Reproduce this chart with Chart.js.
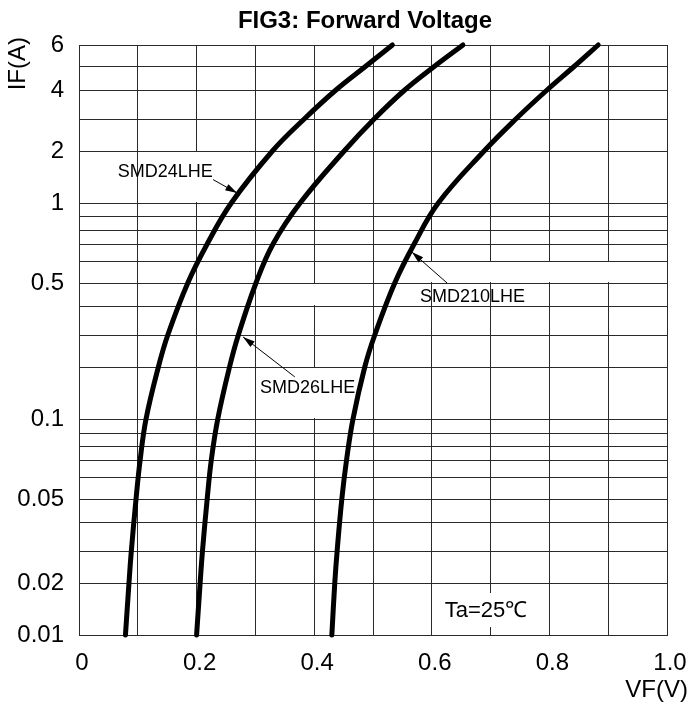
<!DOCTYPE html>
<html>
<head>
<meta charset="utf-8">
<script src="https://cdn.jsdelivr.net/npm/chart.js@4.4.0/dist/chart.umd.min.js"></script>
<style>
  html, body { margin: 0; padding: 0; background: #fff; }
  #wrap { width: 691px; height: 704px; }
</style>
</head>
<body>
<div id="wrap"><canvas id="fwdChart"></canvas></div>
<script>
// forward current (A) where each curve was read
const currentA = [0.01, 0.02, 0.03, 0.05, 0.07, 0.1, 0.2, 0.3, 0.5, 0.7, 1, 2, 3, 4, 5, 6];
// forward voltage (V) of each part at those currents
const vfSMD24LHE = [0.079, 0.085, 0.089, 0.097, 0.104, 0.114, 0.135, 0.151, 0.185, 0.218, 0.259, 0.329, 0.383, 0.437, 0.486, 0.533];
const vfSMD26LHE = [0.200, 0.206, 0.210, 0.218, 0.225, 0.236, 0.256, 0.271, 0.301, 0.330, 0.376, 0.451, 0.502, 0.554, 0.603, 0.653];
const vfSMD210LHE = [0.430, 0.435, 0.439, 0.447, 0.455, 0.466, 0.486, 0.503, 0.537, 0.570, 0.611, 0.689, 0.743, 0.796, 0.841, 0.883];

// y grid lines and the ones carrying a label
const yGrid = [0.01, 0.02, 0.03, 0.04, 0.05, 0.06, 0.07, 0.08, 0.09,
               0.1, 0.2, 0.3, 0.4, 0.5, 0.6, 0.7, 0.8, 0.9,
               1, 2, 3, 4, 5, 6];
const yLabels = [0.01, 0.02, 0.05, 0.1, 0.5, 1, 2, 4, 6];
const xLabels = ["0", "0.2", "0.4", "0.6", "0.8", "1.0"];

const yMin = 0.01, yMax = 6;

// the printed log paper is not a true log scale: spacing of 1..10 inside one decade
const decadeSteps = [0, 52, 84, 113, 136, 158, 175, 189, 202, 216];
const decadeLen = 216;

function warpPos(v) {
  const d = Math.floor(Math.log10(v / yMin) + 1e-9);
  const m = v / (yMin * Math.pow(10, d));
  const i = Math.max(1, Math.min(Math.floor(m + 1e-9), 9));
  return d * decadeLen + decadeSteps[i - 1] + (decadeSteps[i] - decadeSteps[i - 1]) * (m - i);
}
const warpSpan = warpPos(yMax);

class PaperLogScale extends Chart.LinearScale {
  determineDataLimits() {
    this.min = yMin;
    this.max = yMax;
  }
  buildTicks() {
    return yGrid.map(v => ({ value: v }));
  }
  getPixelForValue(value) {
    if (value === null || value === undefined || isNaN(value)) return NaN;
    return this.getPixelForDecimal(warpPos(Math.max(value, yMin)) / warpSpan);
  }
  getValueForPixel(pixel) {
    const p = this.getDecimalForPixel(pixel) * warpSpan;
    const d = Math.floor(p / decadeLen);
    const r = p - d * decadeLen;
    let i = 1;
    while (i < 9 && decadeSteps[i] < r) i++;
    const m = i + (r - decadeSteps[i - 1]) / (decadeSteps[i] - decadeSteps[i - 1]);
    return yMin * Math.pow(10, d) * m;
  }
}
PaperLogScale.id = "paperlog";
PaperLogScale.defaults = Chart.LinearScale.defaults;
Chart.register(PaperLogScale);

const toPoints = vf => vf.map((v, i) => ({ x: v, y: currentA[i] }));

// white patches where the original sheet left the grid out, plus labels and arrows
const sheetPlugin = {
  id: "sheet",
  beforeDatasetsDraw(chart) {
    const { ctx } = chart;
    const xs = chart.scales.x, ys = chart.scales.y;
    const cells = [
      [0.1, 0.3, 1, 2],
      [0.3, 0.5, 0.4, 0.5],
      [0.3, 0.5, 0.1, 0.2],
      [0.5, 1.0, 0.5, 0.6]
    ];
    ctx.save();
    ctx.fillStyle = "#fff";
    cells.forEach(([x0, x1, y0, y1]) => {
      const l = xs.getPixelForValue(x0) + 1, r = xs.getPixelForValue(x1) - 1;
      const t = ys.getPixelForValue(y1) + 1, b = ys.getPixelForValue(y0) - 1;
      ctx.fillRect(l, t, r - l, b - t);
    });
    ctx.restore();
  },
  afterDatasetsDraw(chart) {
    const { ctx } = chart;
    const xs = chart.scales.x, ys = chart.scales.y;
    const P = (v, a) => [xs.getPixelForValue(v), ys.getPixelForValue(a)];
    const notes = [
      { text: "SMD24LHE", at: [0.066, 1.6], from: [0.228, 1.45], to: [0.269, 1.19] },
      { text: "SMD26LHE", at: [0.308, 0.16], from: [0.367, 0.181], to: [0.279, 0.294] },
      { text: "SMD210LHE", at: [0.580, 0.44], from: [0.626, 0.5], to: [0.566, 0.653] }
    ];
    ctx.save();
    ctx.fillStyle = "#000";
    ctx.strokeStyle = "#000";
    ctx.font = "18px 'Liberation Sans', Arial, sans-serif";
    ctx.textBaseline = "middle";
    ctx.textAlign = "left";
    notes.forEach(n => {
      const [tx, ty] = P(n.at[0], n.at[1]);
      ctx.fillText(n.text, tx, ty);
      const [x0, y0] = P(n.from[0], n.from[1]);
      const [x1, y1] = P(n.to[0], n.to[1]);
      ctx.lineWidth = 1;
      ctx.beginPath();
      ctx.moveTo(x0, y0);
      ctx.lineTo(x1, y1);
      ctx.stroke();
      const ang = Math.atan2(y1 - y0, x1 - x0);
      const len = 12, half = 3.5;
      ctx.beginPath();
      ctx.moveTo(x1, y1);
      ctx.lineTo(x1 - len * Math.cos(ang) + half * Math.sin(ang), y1 - len * Math.sin(ang) - half * Math.cos(ang));
      ctx.lineTo(x1 - len * Math.cos(ang) - half * Math.sin(ang), y1 - len * Math.sin(ang) + half * Math.cos(ang));
      ctx.closePath();
      ctx.fill();
    });

    // Ta label with its own white box
    ctx.font = "22px 'Liberation Sans', Arial, sans-serif";
    const [ax, ay] = P(0.622, 0.0148);
    const w = ctx.measureText("Ta=25℃").width;
    ctx.fillStyle = "#fff";
    ctx.fillRect(ax - 4, ay - 17, w + 8, 34);
    ctx.fillStyle = "#000";
    ctx.fillText("Ta=25℃", ax, ay + 1);

    // title and axis names
    ctx.font = "bold 24px 'Liberation Sans', Arial, sans-serif";
    ctx.textAlign = "center";
    ctx.fillText("FIG3: Forward Voltage", 365, 21);

    ctx.font = "24px 'Liberation Sans', Arial, sans-serif";
    ctx.textAlign = "right";
    ctx.fillText("VF(V)", 688, 690);

    ctx.translate(18, 37);
    ctx.rotate(-Math.PI / 2);
    ctx.textAlign = "right";
    ctx.fillText("IF(A)", 0, 0);
    ctx.restore();
  }
};

const lineStyle = {
  borderColor: "#000",
  borderWidth: 5,
  borderCapStyle: "round",
  borderJoinStyle: "round",
  pointRadius: 0,
  tension: 0.4,
  fill: false,
  clip: false
};

new Chart(document.getElementById("fwdChart"), {
  type: "line",
  data: {
    datasets: [
      { label: "SMD24LHE", data: toPoints(vfSMD24LHE), ...lineStyle },
      { label: "SMD26LHE", data: toPoints(vfSMD26LHE), ...lineStyle },
      { label: "SMD210LHE", data: toPoints(vfSMD210LHE), ...lineStyle }
    ]
  },
  options: {
    responsive: true,
    maintainAspectRatio: false,
    devicePixelRatio: 1,
    animation: false,
    layout: { padding: { top: 45, right: 24, bottom: 0, left: 0 } },
    plugins: {
      legend: { display: false },
      tooltip: { enabled: false },
      title: { display: false }
    },
    scales: {
      x: {
        type: "linear",
        min: 0,
        max: 1,
        afterFit: s => { s.height = 69; s.paddingLeft = 0; s.paddingRight = 0; },
        grid: { color: "#2a2a2a", lineWidth: 1, drawTicks: false },
        border: { color: "#2a2a2a" },
        ticks: {
          stepSize: 0.1,
          autoSkip: false,
          maxRotation: 0,
          padding: 14,
          labelOffset: 3,
          color: "#000",
          font: { family: "'Liberation Sans', Arial, sans-serif", size: 24 },
          callback: (v, i) => (i % 2 === 0 ? xLabels[i / 2] : "")
        }
      },
      y: {
        type: "paperlog",
        afterFit: s => { s.width = 79; s.paddingTop = 0; s.paddingBottom = 0; },
        grid: { color: "#2a2a2a", lineWidth: 1, drawTicks: false },
        border: { color: "#2a2a2a" },
        ticks: {
          autoSkip: false,
          padding: 15,
          color: "#000",
          font: { family: "'Liberation Sans', Arial, sans-serif", size: 24 },
          callback: v => (yLabels.includes(v) ? String(v) : "")
        }
      }
    }
  },
  plugins: [sheetPlugin]
});
</script>
</body>
</html>
